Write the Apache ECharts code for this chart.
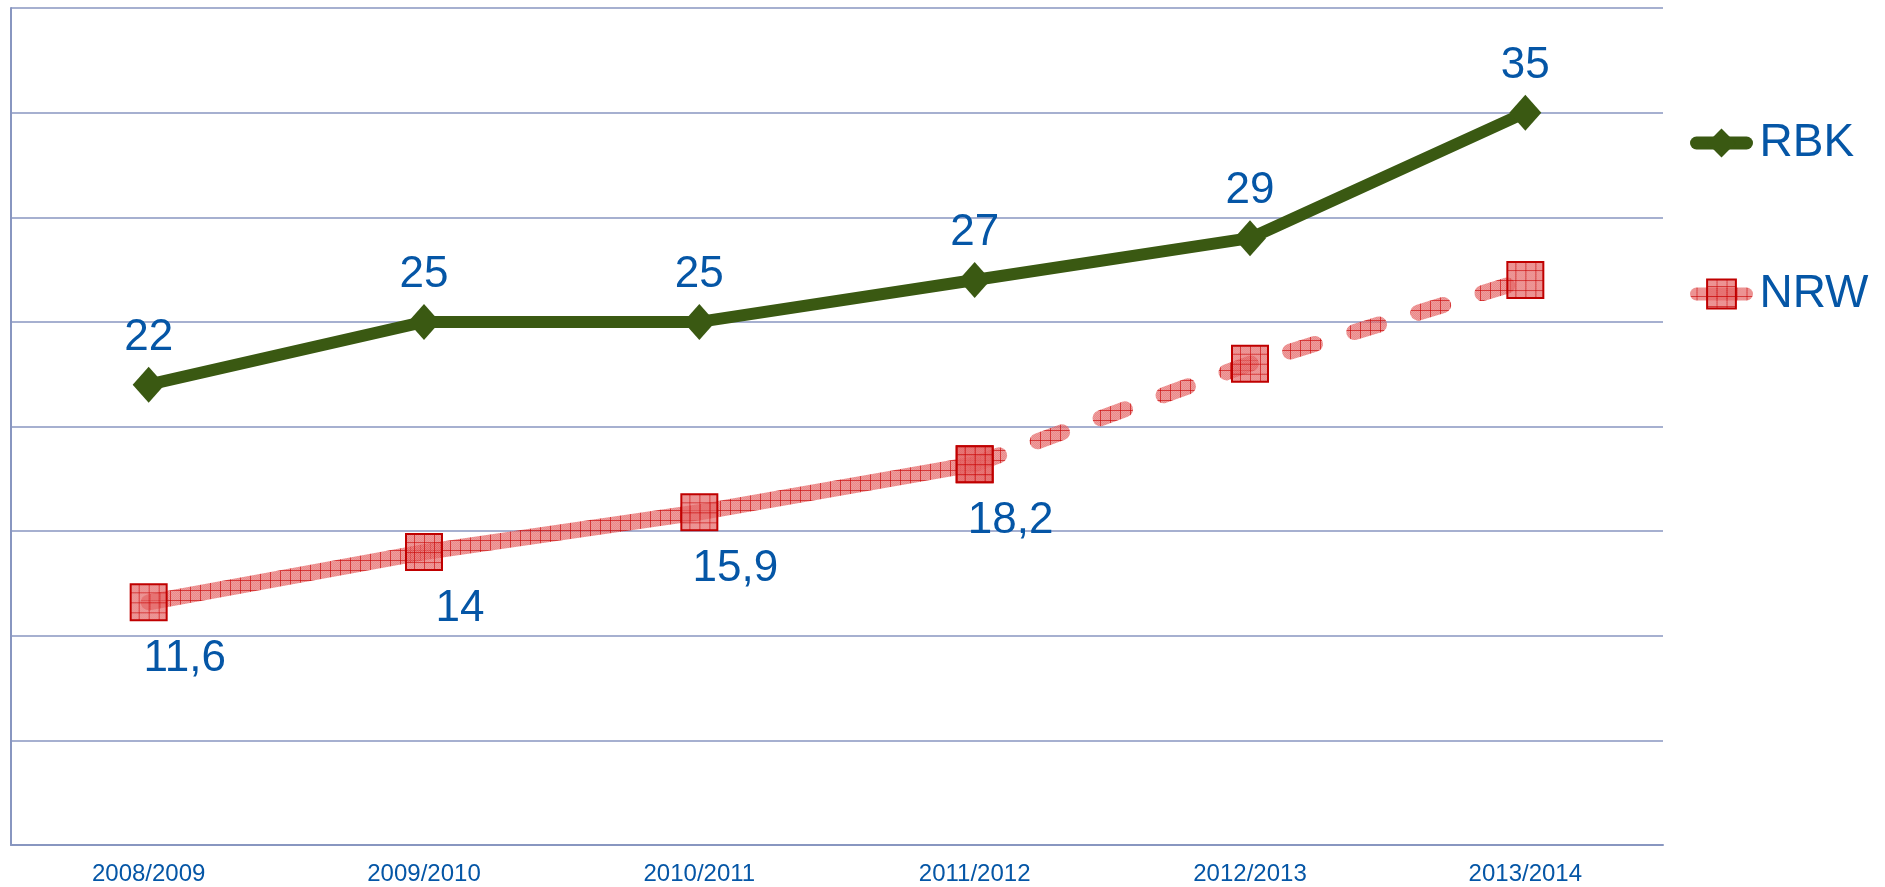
<!DOCTYPE html>
<html>
<head>
<meta charset="utf-8">
<script src="https://cdn.jsdelivr.net/npm/echarts@6/dist/echarts.min.js"></script>
<style>
html, body { margin: 0; padding: 0; background: #fff; }
#chart { width: 1885px; height: 887px; }
</style>
</head>
<body>
<div id="chart"></div>
<script>
// Schuljahre
var years = ['2008/2009', '2009/2010', '2010/2011', '2011/2012', '2012/2013', '2013/2014'];
var rbk = [22, 25, 25, 27, 29, 35];
// NRW: gemessen (durchgezogen) und Prognose (gestrichelt)
var nrwActual = [11.6, 14, 15.9, 18.2, null, null];
var nrwForecast = [null, null, null, 18.2, 23, 27];

var textBlue = '#0556a6';
var gridColor = '#8896c0';
var green = '#3a5912';
var nrwSymbolSize = 36;

// schraffiertes Muster fuer NRW
function makePattern(scale) {
    var c = document.createElement('canvas');
    c.width = 10;
    c.height = 10;
    var ctx = c.getContext('2d');
    ctx.fillStyle = 'rgba(224,80,80,0.68)';
    ctx.fillRect(0, 0, 10, 10);
    ctx.fillStyle = 'rgba(255,255,255,0.18)';
    for (var y = 0; y < 10; y++) {
        for (var x = (y % 2); x < 10; x += 2) {
            ctx.fillRect(x, y, 1, 1);
        }
    }
    ctx.fillStyle = 'rgba(200,0,0,0.6)';
    ctx.fillRect(0, 0, 10, 1);
    ctx.fillRect(0, 0, 1, 10);
    return { image: c, repeat: 'repeat', scaleX: scale, scaleY: scale };
}
var linePattern = makePattern(1);
// Symbole werden intern skaliert, deshalb Muster zurueckskalieren
var symbolPattern = makePattern(2 / nrwSymbolSize);

function commaFmt(p) {
    return String(p.value).replace('.', ',');
}

var option = {
    animation: false,
    textStyle: { fontFamily: 'Liberation Sans' },
    grid: { left: 11, right: 222, top: 8, bottom: 42 },
    legend: {
        orient: 'vertical',
        left: 1685,
        top: 115,
        itemWidth: 50,
        itemHeight: 36,
        itemGap: 105,
        textStyle: { color: textBlue, fontSize: 46, lineHeight: 46, fontFamily: 'Liberation Sans', padding: [0, 0, 0, 8] },
        data: [
            { name: 'RBK', lineStyle: { width: 13, cap: 'round', color: green } },
            { name: 'NRW', lineStyle: { width: 13, cap: 'round', color: linePattern },
              itemStyle: { color: linePattern, borderColor: '#c00000', borderWidth: 2 } }
        ]
    },
    xAxis: {
        type: 'category',
        data: years,
        boundaryGap: true,
        axisLine: { lineStyle: { color: gridColor, width: 2 } },
        axisTick: { show: false },
        axisLabel: { color: textBlue, fontSize: 24, margin: 17 }
    },
    yAxis: {
        type: 'value',
        min: 0,
        max: 40,
        interval: 5,
        axisLine: { show: true, lineStyle: { color: gridColor, width: 2 } },
        axisTick: { show: false },
        axisLabel: { show: false },
        splitLine: { lineStyle: { color: gridColor, width: 1.5 } }
    },
    series: [
        {
            name: 'RBK',
            type: 'line',
            data: rbk,
            symbol: 'diamond',
            symbolSize: [32, 36],
            itemStyle: { color: green },
            lineStyle: { color: green, width: 12, cap: 'round' },
            label: {
                show: true,
                position: 'top',
                distance: 7,
                color: textBlue,
                fontSize: 44,
                formatter: commaFmt
            },
            z: 3
        },
        {
            name: 'NRW',
            type: 'line',
            data: nrwActual,
            symbol: 'rect',
            symbolSize: nrwSymbolSize,
            itemStyle: { color: symbolPattern, borderColor: '#c00000', borderWidth: 2 },
            lineStyle: { color: linePattern, width: 16, cap: 'round' },
            label: {
                show: true,
                position: 'bottom',
                distance: 16,
                offset: [36, 0],
                color: textBlue,
                fontSize: 44,
                formatter: commaFmt
            },
            z: 2
        },
        {
            name: 'NRW',
            type: 'line',
            data: nrwForecast,
            symbol: 'rect',
            symbolSize: nrwSymbolSize,
            itemStyle: { color: symbolPattern, borderColor: '#c00000', borderWidth: 2 },
            lineStyle: { color: linePattern, width: 16, cap: 'round', type: [26, 41] },
            label: { show: false },
            z: 2
        }
    ]
};

var chart = echarts.init(document.getElementById('chart'));
chart.setOption(option);
</script>
</body>
</html>
